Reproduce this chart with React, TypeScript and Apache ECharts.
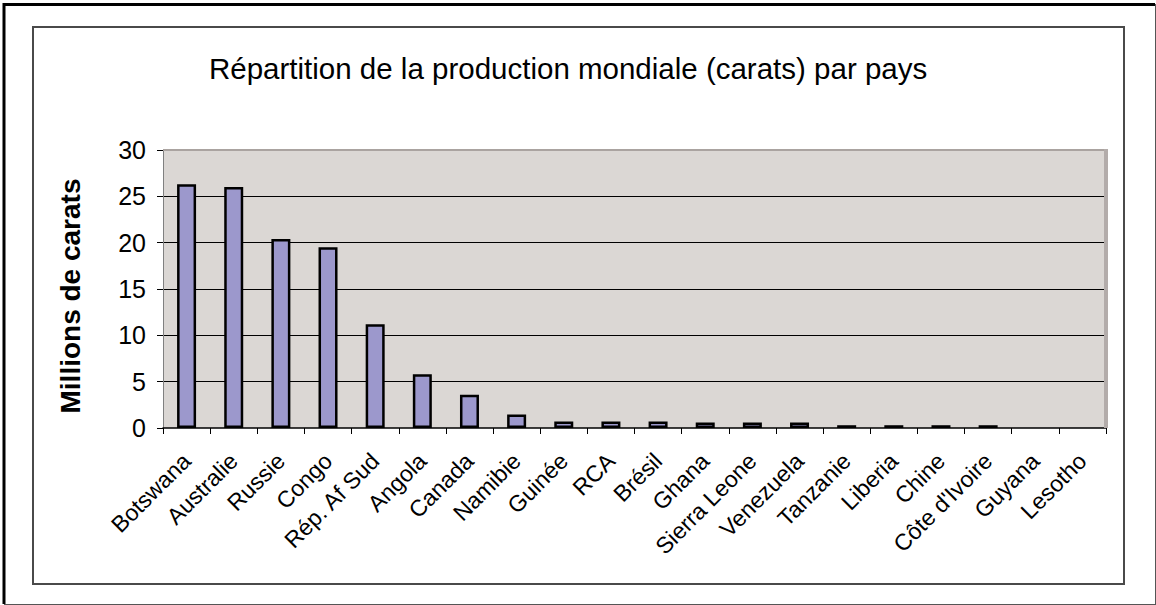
import React, { useEffect, useRef } from "react";
import * as echarts from "echarts";

const categories = [
  "Botswana", "Australie", "Russie", "Congo", "Rép. Af Sud", "Angola", "Canada",
  "Namibie", "Guinée", "RCA", "Brésil", "Ghana", "Sierra Leone", "Venezuela",
  "Tanzanie", "Liberia", "Chine", "Côte d'Ivoire", "Guyana", "Lesotho",
];
const production = [
  26.3, 26.0, 20.4, 19.5, 11.2, 5.8, 3.6, 1.45, 0.7, 0.7, 0.7, 0.6, 0.6, 0.6,
  0.3, 0.3, 0.3, 0.3, 0, 0,
];
const yTicks = { min: 0, max: 30, interval: 5 };
const titleText = "Répartition de la production mondiale (carats) par pays";
const yName = "Millions de carats";

const FONT = "'Liberation Sans', Arial, Helvetica, sans-serif";

export default function App() {
  const ref = useRef<HTMLDivElement>(null);
  useEffect(() => {
    document.body.style.margin = "0";
    const chart = echarts.init(ref.current!, null, { renderer: "svg" });
    // a zero value draws no bar (no border line) as in the original
    const barData = production.map((v) => (v === 0 ? null : v));
    chart.setOption({
      animation: false,
      backgroundColor: "#ffffff",
      title: {
        text: titleText,
        left: 204,
        top: 48,
        textStyle: { fontFamily: FONT, fontSize: 29.5, fontWeight: "normal", color: "#000" },
      },
      graphic: [
        // outer frame
        { type: "line", shape: { x1: 4, y1: 4.5, x2: 1155, y2: 4.5 }, style: { stroke: "#000", lineWidth: 3 } },
        { type: "line", shape: { x1: 4, y1: 3, x2: 4, y2: 604 }, style: { stroke: "#000", lineWidth: 3 } },
        { type: "line", shape: { x1: 1155.5, y1: 4, x2: 1155.5, y2: 604 }, style: { stroke: "#555", lineWidth: 1 } },
        { type: "line", shape: { x1: 4, y1: 604.5, x2: 1156, y2: 604.5 }, style: { stroke: "#555", lineWidth: 1 } },
        // inner frame
        { type: "rect", shape: { x: 33, y: 27, width: 1091, height: 557 }, style: { fill: "none", stroke: "#4a4a4a", lineWidth: 2 } },
        // plot area border top / right
        { type: "line", shape: { x1: 163, y1: 150, x2: 1107, y2: 150 }, style: { stroke: "#aaa3a0", lineWidth: 2 }, z: 10 },
        { type: "line", shape: { x1: 1106, y1: 149, x2: 1106, y2: 428 }, style: { stroke: "#b3acaa", lineWidth: 4 }, z: 10 },
      ],
      grid: {
        left: 163,
        right: 50,
        top: 150,
        bottom: 177,
        show: true,
        backgroundColor: "#dbd7d4",
        borderWidth: 0,
      },
      xAxis: {
        type: "category",
        data: categories,
        boundaryGap: true,
        axisLine: { show: true, lineStyle: { color: "#000", width: 1.5 } },
        axisTick: { show: true, length: 6, alignWithLabel: false, lineStyle: { color: "#000", width: 1 } },
        axisLabel: {
          interval: 0,
          rotate: 45,
          margin: 29,
          color: "#000",
          fontFamily: FONT,
          fontSize: 23,
        },
        splitLine: { show: false },
        z: 5,
      },
      yAxis: {
        type: "value",
        min: yTicks.min,
        max: yTicks.max,
        interval: yTicks.interval,
        name: yName,
        nameLocation: "middle",
        nameRotate: 90,
        nameGap: 79,
        nameTextStyle: {
          fontFamily: FONT,
          fontSize: 28,
          fontWeight: "bold",
          color: "#000",
          padding: [0, 14, 0, 0],
        },
        axisLine: { show: true, lineStyle: { color: "#808080", width: 1 } },
        axisTick: { show: true, length: 6, lineStyle: { color: "#000", width: 1 } },
        axisLabel: { margin: 17, color: "#000", fontFamily: FONT, fontSize: 25 },
        splitLine: { show: true, showMaxLine: false, showMinLine: false, lineStyle: { color: "#000", width: 1 } },
      },
      series: [
        {
          type: "bar",
          data: barData,
          barWidth: 19,
          itemStyle: { color: "#9c98cc", borderColor: "#000", borderWidth: 2.5 },
          z: 3,
        },
      ],
    });
    return () => chart.dispose();
  }, []);
  return (
    <div
      ref={ref}
      style={{ position: "fixed", left: 0, top: 0, width: 1156, height: 605 }}
    />
  );
}
